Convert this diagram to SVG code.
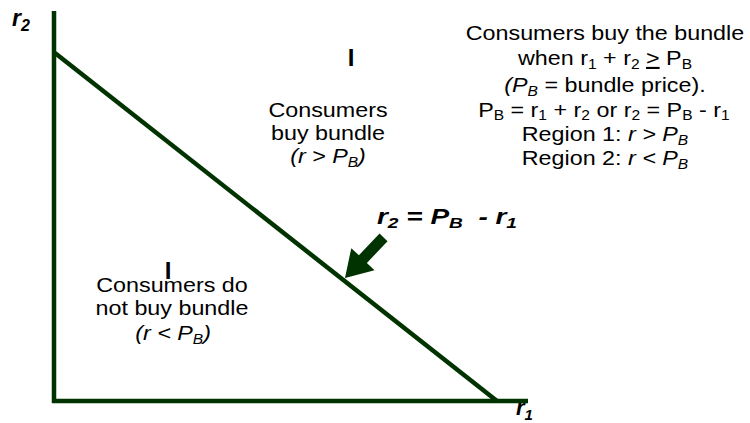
<svg xmlns="http://www.w3.org/2000/svg" width="750" height="423" viewBox="0 0 750 423">
<style>
.ax{stroke:#003300;stroke-width:4.5;fill:none;stroke-linecap:butt}
.t{font-family:"Liberation Sans",Arial,sans-serif;font-size:21px;fill:#000;text-anchor:middle}
.bi{font-family:"Liberation Sans",Arial,sans-serif;font-weight:bold;font-style:italic;fill:#000}
.it{font-style:italic}
.s{font-size:14px}
.b{font-family:"Liberation Sans",Arial,sans-serif;font-weight:bold;font-size:24px;fill:#000;text-anchor:middle}
</style>
<rect width="750" height="423" fill="#fff"/>
<g id="connectors">
<line class="ax" x1="54" y1="11" x2="54" y2="403"/>
<line class="ax" x1="52" y1="401" x2="528" y2="401"/>
<line class="ax" x1="55" y1="53" x2="497" y2="401"/>
<path id="arrow" d="M0,0 L-26,-16 L-26,-5.5 L-56,-5.5 L-56,5.5 L-26,5.5 L-26,16 Z" fill="#003300" transform="translate(345,278) rotate(133.5)"/>
</g>
<g id="axis-r2"><text class="bi" x="12" y="26" font-size="23">r<tspan font-size="16" dy="5">2</tspan></text></g>
<g id="axis-r1"><text class="bi" x="516" y="415" font-size="22">r<tspan font-size="15" dy="5">1</tspan></text></g>
<g id="region1">
<text class="b" x="351" y="66">I</text>
<g transform="translate(328,0) scale(1.11,1) translate(-328,0)">
<text class="t" x="328" y="117">Consumers</text>
<text class="t" x="328" y="140">buy bundle</text>
<text class="t" x="328" y="163"><tspan class="it">(r &gt; P<tspan class="s" dy="4">B</tspan><tspan dy="-4">)</tspan></tspan></text>
</g>
</g>
<g id="region2">
<text class="b" x="168" y="279">I</text>
<g transform="translate(172,0) scale(1.11,1) translate(-172,0)">
<text class="t" x="172" y="292">Consumers do</text>
<text class="t" x="172" y="315">not buy bundle</text>
<text class="t" x="173" y="340"><tspan class="it">(r &lt; P<tspan class="s" dy="4">B</tspan><tspan dy="-4">)</tspan></tspan></text>
</g>
</g>
<g id="line-label">
<text class="bi" x="377" y="224" font-size="22" textLength="140" lengthAdjust="spacingAndGlyphs" xml:space="preserve">r<tspan font-size="15" dy="4">2</tspan><tspan dy="-4"> = P</tspan><tspan font-size="15" dy="4">B</tspan><tspan dy="-4">  - r</tspan><tspan font-size="15" dy="4">1</tspan></text>
</g>
<g id="notes" transform="translate(605,0) scale(1.11,1) translate(-605,0)">
<text class="t" x="605" y="40">Consumers buy the bundle</text>
<text class="t" x="605" y="65">when r<tspan class="s" dy="4">1</tspan><tspan dy="-4"> + r</tspan><tspan class="s" dy="4">2</tspan><tspan dy="-4"> </tspan><tspan text-decoration="underline">&gt;</tspan> P<tspan class="s" dy="4">B</tspan></text>
<text class="t" x="605" y="92"><tspan class="it">(P</tspan><tspan class="it s" dy="4">B</tspan><tspan dy="-4"> = bundle price).</tspan></text>
<text class="t" x="604" y="117">P<tspan class="s" dy="3">B</tspan><tspan dy="-3"> = r</tspan><tspan class="s" dy="3">1</tspan><tspan dy="-3"> + r</tspan><tspan class="s" dy="3">2</tspan><tspan dy="-3"> or r</tspan><tspan class="s" dy="3">2</tspan><tspan dy="-3"> = P</tspan><tspan class="s" dy="3">B</tspan><tspan dy="-3"> - r</tspan><tspan class="s" dy="3">1</tspan></text>
<text class="t" x="605" y="141">Region 1: <tspan class="it">r &gt; P</tspan><tspan class="it s" dy="4">B</tspan></text>
<text class="t" x="605" y="165">Region 2: <tspan class="it">r &lt; P</tspan><tspan class="it s" dy="4">B</tspan></text>
</g>
</svg>
